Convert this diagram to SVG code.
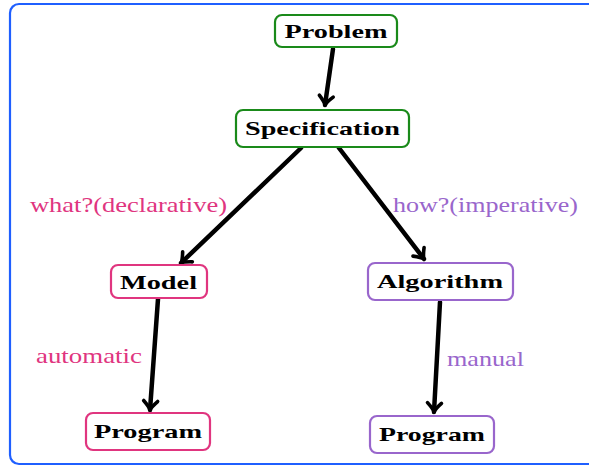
<svg xmlns="http://www.w3.org/2000/svg" width="589" height="466" viewBox="0 0 589 466">
<style>
.box{fill:#fff;stroke-width:2.2}
.g{stroke:#1a8a1a}.p{stroke:#e0357f}.v{stroke:#9966cc}
.t{font-family:"Liberation Serif","DejaVu Serif",serif;font-weight:bold;font-size:19px;fill:#000;text-anchor:middle}
.l{font-family:"Liberation Serif","DejaVu Serif",serif;font-size:21px}
.conn{stroke:#000;stroke-width:4.5;fill:none;stroke-linecap:round;marker-end:url(#ah)}
</style>
<defs>
<marker id="ah" markerUnits="userSpaceOnUse" viewBox="-12 -10 16 20" markerWidth="16" markerHeight="20" refX="0" refY="0" orient="auto">
<path d="M-9,-7 Q-3,-1 0,0 Q-3,1 -9,7" fill="none" stroke="#000" stroke-width="3.6" stroke-linecap="round" stroke-linejoin="round"/>
</marker>
</defs>
<rect x="10" y="4" width="600" height="460" rx="9" fill="#fff" stroke="#1f5fff" stroke-width="2.2"/>
<g id="connectors">
<line class="conn" x1="333" y1="49" x2="325" y2="105"/>
<line class="conn" x1="301" y1="148" x2="181" y2="263"/>
<line class="conn" x1="339" y1="148" x2="424" y2="259"/>
<line class="conn" x1="158" y1="299" x2="150" y2="410"/>
<line class="conn" x1="440" y1="302" x2="434" y2="412"/>
</g>
<g id="problem"><rect class="box g" x="275" y="15" width="122" height="32" rx="7"/><text class="t" x="336" y="38" textLength="103" lengthAdjust="spacingAndGlyphs">Problem</text></g>
<g id="specification"><rect class="box g" x="236" y="110" width="173" height="37" rx="7"/><text class="t" x="322.5" y="135" textLength="155" lengthAdjust="spacingAndGlyphs">Specification</text></g>
<g id="model"><rect class="box p" x="111" y="265" width="96" height="33" rx="7"/><text class="t" x="158.5" y="289" textLength="77" lengthAdjust="spacingAndGlyphs">Model</text></g>
<g id="algorithm"><rect class="box v" x="368" y="263" width="145" height="37" rx="7"/><text class="t" x="440" y="288" textLength="126" lengthAdjust="spacingAndGlyphs">Algorithm</text></g>
<g id="program1"><rect class="box p" x="86" y="413" width="124" height="37" rx="7"/><text class="t" x="148" y="438" textLength="108" lengthAdjust="spacingAndGlyphs">Program</text></g>
<g id="program2"><rect class="box v" x="370" y="416" width="124" height="37" rx="7"/><text class="t" x="432" y="441" textLength="106" lengthAdjust="spacingAndGlyphs">Program</text></g>
<g id="labels">
<text class="l" x="30" y="212" fill="#e0357f" textLength="197" lengthAdjust="spacingAndGlyphs">what?(declarative)</text>
<text class="l" x="393" y="212" fill="#9966cc" textLength="185" lengthAdjust="spacingAndGlyphs">how?(imperative)</text>
<text class="l" x="36" y="363" fill="#e0357f" textLength="106" lengthAdjust="spacingAndGlyphs">automatic</text>
<text class="l" x="447" y="366" fill="#9966cc" textLength="77" lengthAdjust="spacingAndGlyphs">manual</text>
</g>
</svg>
